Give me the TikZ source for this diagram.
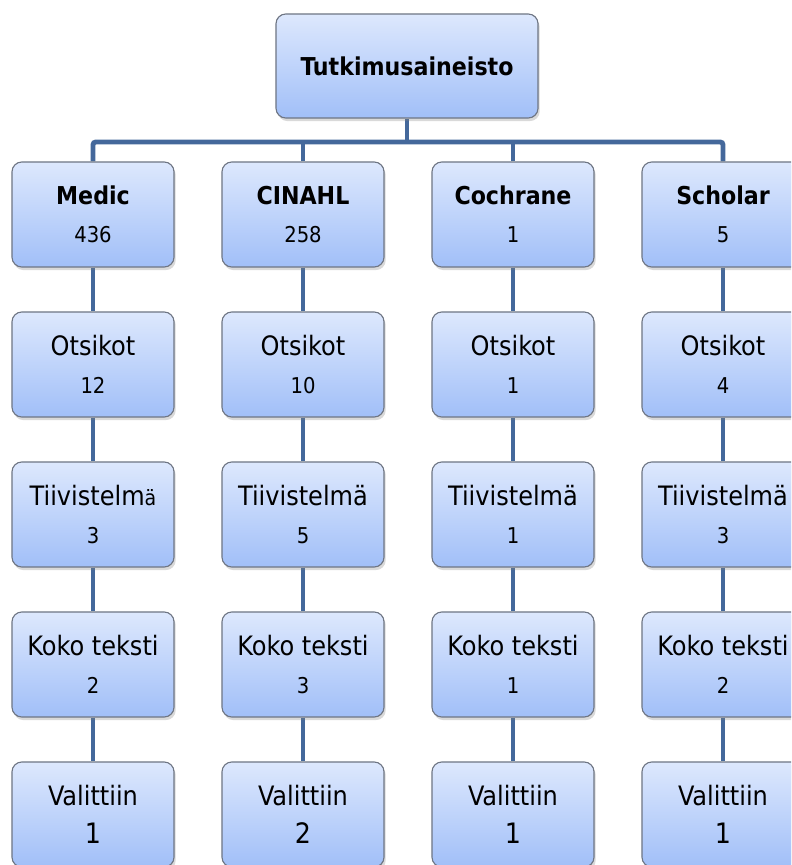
\documentclass[tikz,border=0pt]{standalone}
\usepackage{fontspec}
\setmainfont{DejaVu Sans Condensed}
\usetikzlibrary{shadows,backgrounds}
\definecolor{bartop}{HTML}{DDE8FD}
\definecolor{barbottom}{HTML}{A1BFF8}
\definecolor{edgegray}{HTML}{6F7684}
\definecolor{linkblue}{HTML}{44689B}
\newcommand{\numsize}{\fontsize{15.5}{27}\selectfont}
\newcommand{\lastsize}{\fontsize{20}{27}\selectfont}
\newcommand{\headsize}{\fontsize{17.5}{27}\selectfont\bfseries}
\tikzset{
  box/.style={draw=edgegray, line width=0.8pt, rounded corners=7pt,
    top color=bartop, bottom color=barbottom,
    minimum width=4.05cm, minimum height=2.625cm, align=center,
    inner sep=0pt, font=\fontsize{19}{27}\selectfont,
    drop shadow={shadow xshift=1.2pt, shadow yshift=-2.2pt, opacity=0.3}},
  link/.style={draw=linkblue, line width=3.5pt}
}
\begin{document}
\begin{tikzpicture}[x=0.025cm, y=-0.025cm]
		%%%%% START %%%%%
		\useasboundingbox (0, 0) rectangle (791, 865);
		\clip (0, 0) rectangle (791, 865);
		
		\node[box, minimum width=6.55cm, minimum height=2.6cm] (top) at (407, 66) {\headsize Tutkimusaineisto};
		
		% databases
		\node[box] (medic) at (93, 214.5) {{\headsize Medic}\\\numsize 436};
		\node[box] (cinahl) at (303, 214.5) {{\headsize CINAHL}\\\numsize 258};
		\node[box] (cochrane) at (513, 214.5) {{\headsize Cochrane}\\\numsize 1};
		\node[box] (scholar) at (723, 214.5) {{\headsize Scholar}\\\numsize 5};
		
		% titles
		\node[box] (medicot) at (93, 364.5) {Otsikot\\\numsize 12};
		\node[box] (cinahlot) at (303, 364.5) {Otsikot\\\numsize 10};
		\node[box] (cochraneot) at (513, 364.5) {Otsikot\\\numsize 1};
		\node[box] (scholarot) at (723, 364.5) {Otsikot\\\numsize 4};
		
		% abstracts
		\node[box] (medicti) at (93, 514.5) {Tiivistelm{\fontsize{15}{27}\selectfont ä}\\\numsize 3};
		\node[box] (cinahlti) at (303, 514.5) {Tiivistelmä\\\numsize 5};
		\node[box] (cochraneti) at (513, 514.5) {Tiivistelmä\\\numsize 1};
		\node[box] (scholarti) at (723, 514.5) {Tiivistelmä\\\numsize 3};
		
		% full texts
		\node[box] (medickt) at (93, 664.5) {Koko teksti\\\numsize 2};
		\node[box] (cinahlkt) at (303, 664.5) {Koko teksti\\\numsize 3};
		\node[box] (cochranekt) at (513, 664.5) {Koko teksti\\\numsize 1};
		\node[box] (scholarkt) at (723, 664.5) {Koko teksti\\\numsize 2};
		
		% chosen
		\node[box] (medicva) at (93, 814.5) {Valittiin\\\lastsize 1};
		\node[box] (cinahlva) at (303, 814.5) {Valittiin\\\lastsize 2};
		\node[box] (cochraneva) at (513, 814.5) {Valittiin\\\lastsize 1};
		\node[box] (scholarva) at (723, 814.5) {Valittiin\\\lastsize 1};
		
		\coordinate (bus) at (407, 142);
		
		\begin{scope}[on background layer]
		\draw[link] (top.south) -- (bus);
		\draw[link, rounded corners=2pt] (medic.north) |- (bus) -| (scholar.north);
		\draw[link] (cinahl.north) -- (cinahl.north |- bus);
		\draw[link] (cochrane.north) -- (cochrane.north |- bus);
		
		\draw[link] (medic) -- (medicot) -- (medicti) -- (medickt) -- (medicva);
		\draw[link] (cinahl) -- (cinahlot) -- (cinahlti) -- (cinahlkt) -- (cinahlva);
		\draw[link] (cochrane) -- (cochraneot) -- (cochraneti) -- (cochranekt) -- (cochraneva);
		\draw[link] (scholar) -- (scholarot) -- (scholarti) -- (scholarkt) -- (scholarva);
		\end{scope}
		
		%%%%% END %%%%%
\end{tikzpicture}
\end{document}
